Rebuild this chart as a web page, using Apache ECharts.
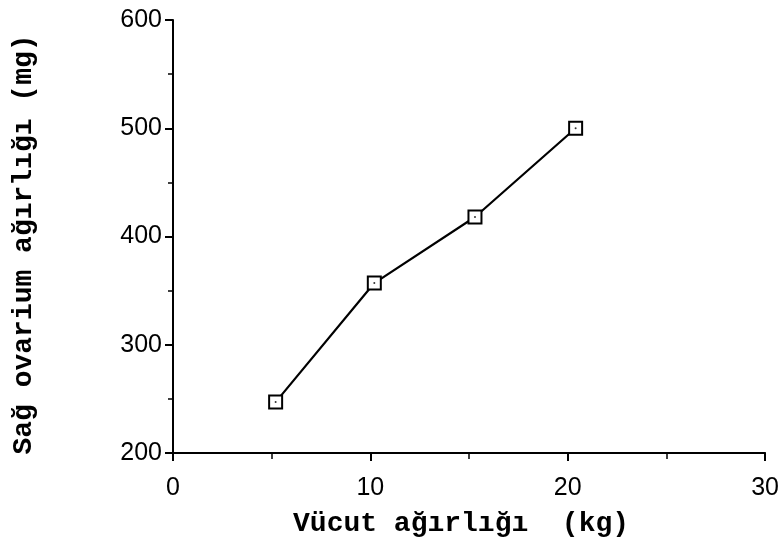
<!DOCTYPE html>
<html>
<head>
<meta charset="utf-8">
<script src="https://cdn.jsdelivr.net/npm/echarts@6/dist/echarts.min.js"></script>
<style>html,body{margin:0;padding:0;background:#fff}#c{width:782px;height:555px}</style>
</head>
<body>
<div id="c"></div>
<script>
var bodyWeight = [5.2, 10.2, 15.3, 20.4];
var ovaryWeight = [247, 357, 418, 500];
var xTitle = 'Vücut ağırlığı  (kg)';
var yTitle = 'Sağ ovarium ağırlığı (mg)';

var pts = bodyWeight.map(function (x, i) { return [x, ovaryWeight[i]]; });
var chart = echarts.init(document.getElementById('c'));
var tickFont = {color: '#000', fontFamily: 'Liberation Sans', fontSize: 25};
chart.setOption({
  animation: false,
  backgroundColor: '#fff',
  grid: {left: 173, right: 16, top: 20, bottom: 102},
  xAxis: {
    type: 'value', min: 0, max: 30, interval: 10,
    name: xTitle, nameLocation: 'middle', nameGap: 57,
    nameTextStyle: {color: '#000', fontFamily: 'Liberation Mono', fontWeight: 'bold', fontSize: 28, padding: [0, 16, 0, 0]},
    axisLine: {lineStyle: {color: '#000', width: 2}},
    axisTick: {show: true, inside: false, length: 8, lineStyle: {color: '#000', width: 2}},
    minorTick: {show: true, splitNumber: 2, length: 6, lineStyle: {color: '#000', width: 1.5}},
    splitLine: {show: false},
    axisLabel: Object.assign({margin: 35, verticalAlign: 'middle'}, tickFont)
  },
  yAxis: {
    type: 'value', min: 200, max: 600, interval: 100,
    name: yTitle, nameLocation: 'middle', nameGap: 135, nameRotate: 90,
    nameTextStyle: {color: '#000', fontFamily: 'Liberation Mono', fontWeight: 'bold', fontSize: 28, padding: [0, 16, 0, 0]},
    axisLine: {lineStyle: {color: '#000', width: 2}},
    axisTick: {show: true, inside: false, length: 8, lineStyle: {color: '#000', width: 2}},
    minorTick: {show: true, splitNumber: 2, length: 5, lineStyle: {color: '#000', width: 1.5}},
    splitLine: {show: false},
    axisLabel: Object.assign({margin: 11}, tickFont)
  },
  series: [{
    type: 'line', data: pts,
    symbol: 'rect', symbolSize: 13,
    lineStyle: {color: '#000', width: 2.2},
    itemStyle: {color: '#fff', borderColor: '#000', borderWidth: 2}
  }, {
    type: 'scatter', data: pts, symbol: 'circle', symbolSize: 2,
    itemStyle: {color: '#000'}, z: 5
  }]
});
</script>
</body>
</html>
